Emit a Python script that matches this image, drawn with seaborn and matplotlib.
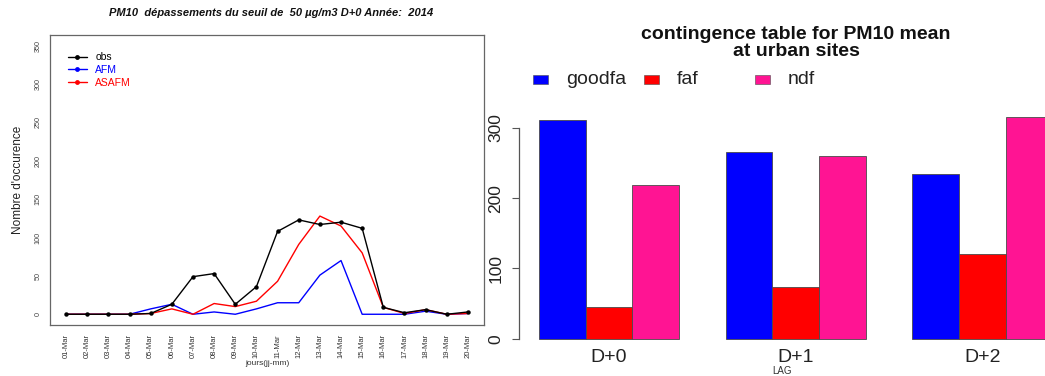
import numpy as np
import pandas as pd
import matplotlib
matplotlib.use("Agg")
import matplotlib.pyplot as plt
from matplotlib.lines import Line2D
from matplotlib.patches import Rectangle
import seaborn as sns

# ---- data: daily PM10 exceedance counts (left) ----
days = ["01-Mar", "02-Mar", "03-Mar", "04-Mar", "05-Mar", "06-Mar", "07-Mar",
        "08-Mar", "09-Mar", "10-Mar", "11-Mar", "12-Mar", "13-Mar", "14-Mar",
        "15-Mar", "16-Mar", "17-Mar", "18-Mar", "19-Mar", "20-Mar"]
obs = [0, 0, 0, 0, 1, 13, 49, 53, 13, 36, 108, 123, 117, 120, 112, 9, 2, 6, 0, 3]
afm = [0, 0, 0, 0, 7, 13, 0, 3, 0, 7, 15, 15, 51, 70, 0, 0, 0, 4, 0, 1]
asafm = [0, 0, 0, 0, 1, 7, 0, 14, 10, 17, 43, 91, 128, 115, 80, 9, 1, 6, 0, 1]

# ---- data: contingence table by forecast lag (right) ----
lags = ["D+0", "D+1", "D+2"]
goodfa = [311, 265, 234]
faf = [45, 74, 121]
ndf = [218, 260, 316]

sns.set_theme(style="white")
plt.rcParams["font.family"] = ["Liberation Sans", "DejaVu Sans"]

W, H = 1045, 376
fig = plt.figure(figsize=(W / 100, H / 100), dpi=100)


def box(l, r, t, b):
    return [l / W, 1 - b / H, (r - l) / W, (b - t) / H]


# ================= left panel: line chart =================
axl = fig.add_axes(box(50, 484, 35, 325))
xpos = np.arange(1, len(days) + 1)
line_df = pd.DataFrame({
    "jour": np.tile(xpos, 3),
    "n": obs + afm + asafm,
    "serie": ["obs"] * len(days) + ["AFM"] * len(days) + ["ASAFM"] * len(days),
})
cols = {"obs": "black", "AFM": "blue", "ASAFM": "red"}
for name in ["AFM", "ASAFM", "obs"]:
    sub = line_df[line_df["serie"] == name]
    sns.lineplot(data=sub, x="jour", y="n", color=cols[name], lw=1.0,
                 marker="o" if name == "obs" else None, markersize=3.2,
                 markeredgewidth=0, ax=axl, legend=False)

span = len(days) - 1
axl.set_xlim(1 - 0.04 * span, len(days) + 0.04 * span)
axl.set_ylim(-14, 364)
axl.set_xticks(xpos)
axl.set_xticklabels(days, rotation=90, fontsize=5.5, color="#333333")
axl.set_yticks(np.arange(0, 351, 50))
axl.set_yticklabels([str(v) for v in range(0, 351, 50)], rotation=90,
                    fontsize=5.2, color="#444444", va="center")
axl.tick_params(axis="both", direction="out", length=4, width=0.6,
                color="#555555", pad=2)
axl.tick_params(axis="x", pad=2.5)
for s in axl.spines.values():
    s.set_color("#666666")
    s.set_linewidth(0.9)
axl.set_xlabel("jours(jj-mm)", fontsize=6, color="#333333", labelpad=1)
axl.set_ylabel("Nombre d'occurence", fontsize=8.5, color="#222222", labelpad=8)

handles = [Line2D([], [], color=cols[k], lw=1.0, marker="o", markersize=3.5,
                  markeredgewidth=0) for k in ["obs", "AFM", "ASAFM"]]
leg = axl.legend(handles, ["obs", "AFM", "ASAFM"], loc="upper left",
                 bbox_to_anchor=(0.041, 0.94), frameon=False, fontsize=7.5,
                 borderpad=0, borderaxespad=0, handlelength=1.85,
                 handletextpad=0.8, labelspacing=0.25)
for txt, k in zip(leg.get_texts(), ["obs", "AFM", "ASAFM"]):
    txt.set_color(cols[k])

fig.text(271 / W, 1 - 13 / H,
         "PM10  dépassements du seuil de  50 µg/m3 D+0 Année:  2014",
         ha="center", va="center", fontsize=8, fontweight="bold",
         fontstyle="italic", color="#111111")

# ================= right panel: grouped bars =================
axr = fig.add_axes(box(518.5, 1045, 107.7, 347.6))
bar_df = pd.DataFrame({
    "LAG": np.repeat(lags, 3),
    "type": ["goodfa", "faf", "ndf"] * len(lags),
    "n": [v for trio in zip(goodfa, faf, ndf) for v in trio],
})
pal = {"goodfa": "#0000FF", "faf": "#FF0000", "ndf": "#FF1493"}
sns.barplot(data=bar_df, x="LAG", y="n", hue="type",
            hue_order=["goodfa", "faf", "ndf"], order=lags, palette=pal,
            width=0.75, gap=0, errorbar=None, edgecolor="#4a4a4a",
            linewidth=0.6, saturation=1, legend=False, ax=axr)

unit = 186.7  # pixels per category step
axr.set_xlim(-(609 - 518.5) / unit, (1045 - 609) / unit)
axr.set_ylim(-12.64, 328.64)
for side in ["top", "right", "bottom"]:
    axr.spines[side].set_visible(False)
axr.spines["left"].set_bounds(0, 300)
axr.spines["left"].set_color("#555555")
axr.spines["left"].set_linewidth(0.9)
axr.set_yticks([0, 100, 200, 300])
axr.set_yticklabels(["0", "100", "200", "300"], rotation=90, fontsize=12.5,
                    color="#222222", va="center")
axr.tick_params(axis="y", direction="out", length=5, width=0.8,
                color="#555555", pad=6, left=True)
axr.tick_params(axis="x", length=0, pad=1, labelsize=14, labelcolor="#222222")
axr.set_xlabel("LAG", fontsize=7, color="#333333", labelpad=0)
axr.set_ylabel("")

fig.text(796 / W, 1 - 43 / H,
         "contingence table for PM10 mean\nat urban sites",
         ha="center", va="center", fontsize=14, fontweight="bold",
         color="#111111", linespacing=1.0)

# legend row for the bar panel
for x0, lab in zip([533, 644, 755], ["goodfa", "faf", "ndf"]):
    fig.patches.append(Rectangle((x0 / W, 1 - 83.5 / H), 15 / W, 9 / H,
                                 transform=fig.transFigure, facecolor=pal[lab],
                                 edgecolor="#4a4a4a", linewidth=0.4))
    fig.text((x0 + 33) / W, 1 - 79 / H, lab, ha="left", va="center",
             fontsize=14, color="#222222")

fig.savefig("out.png", dpi=100)
